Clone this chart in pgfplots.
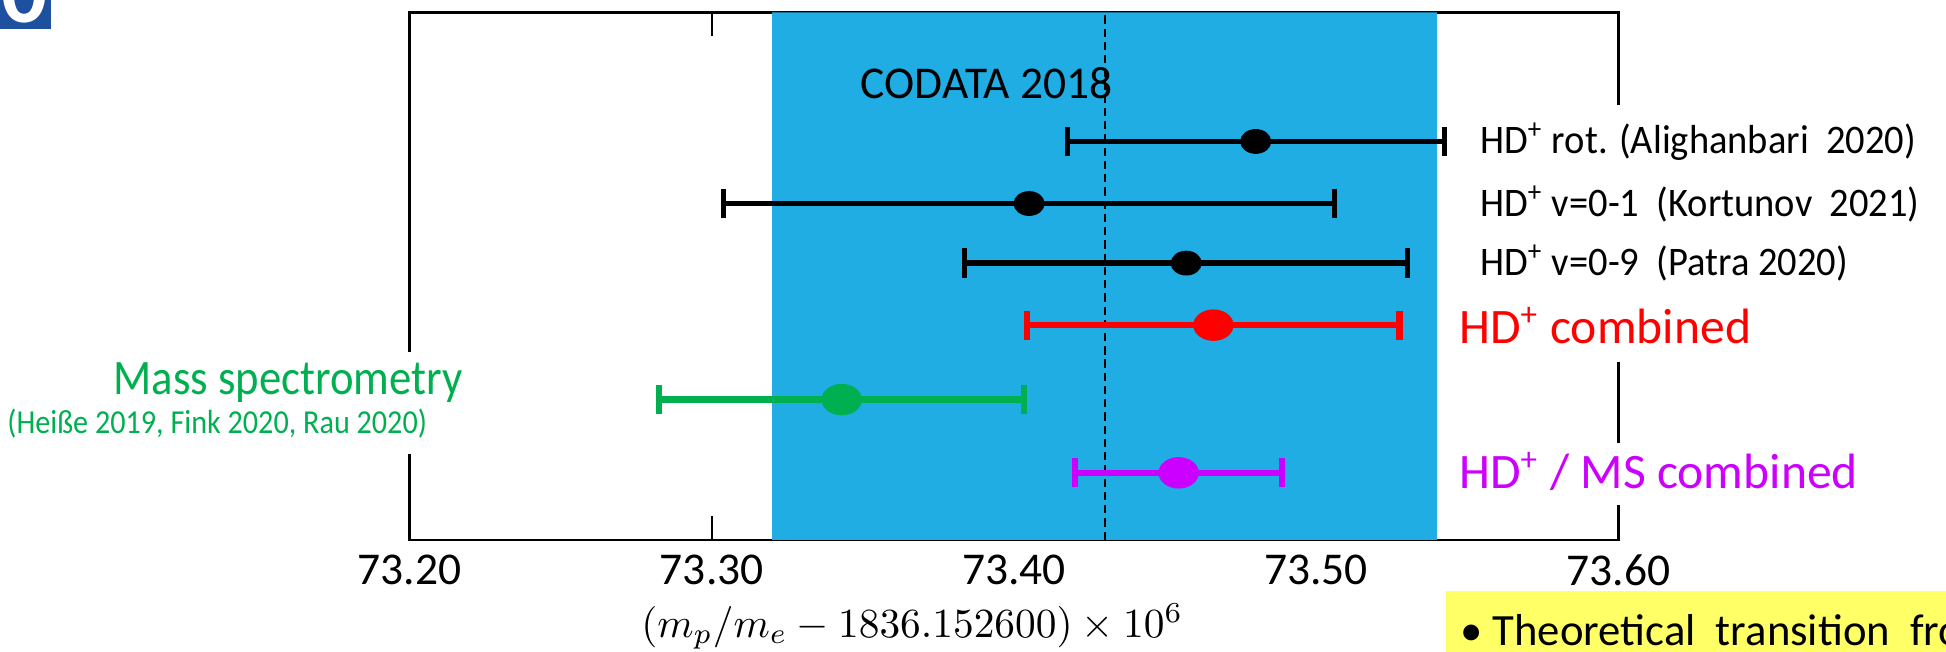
\documentclass[border=0pt]{standalone}
\usepackage{pgfplots}
\pgfplotsset{compat=1.18}
\usepackage{fontspec}
\setmainfont{Carlito}
\definecolor{bandblue}{RGB}{31,173,228}
\definecolor{msgreen}{RGB}{0,176,80}
\definecolor{hdmag}{RGB}{204,0,255}
\definecolor{boxyellow}{RGB}{255,255,102}
\definecolor{iconblue}{RGB}{30,80,160}
\newcommand{\fs}[1]{\fontsize{#1}{1.2\dimexpr#1\relax}\selectfont}
\begin{document}
\begin{tikzpicture}
\useasboundingbox (0,0) rectangle (470.4pt,157.5pt);
\clip (0,0) rectangle (470.4pt,157.5pt);
\begin{axis}[
  at={(99pt,27pt)}, anchor=south west, scale only axis,
  width=292.2pt, height=127.5pt,
  xmin=73.2, xmax=73.6, ymin=0, ymax=425,
  ytick=\empty,
  xtick={73.2,73.3,73.4,73.5,73.6},
  xtick pos=both,
  tick align=inside, major tick length=5.8pt,
  xticklabel style={font=\fs{11pt}, /pgf/number format/.cd, fixed, fixed zerofill, precision=2, assume math mode=true},
  axis line style={line width=0.6pt},
  tick style={black, line width=0.5pt},
  clip=false,
]
% CODATA 2018 band
\addplot[draw=none, fill=bandblue] coordinates {(73.32,0) (73.32,425) (73.54,425) (73.54,0)} \closedcycle;
\node[anchor=west, inner sep=0pt, font=\fs{11pt}] at (axis cs:73.3491,368) {CODATA 2018};
\addplot[black, line width=0.5pt, dash pattern=on 2pt off 1.2pt] coordinates {(73.43,0) (73.43,425)};
% black measurements
\addplot[black, mark=*, mark size=2.8pt, mark options={xscale=1.27}, only marks,
  error bars/.cd, x dir=both, x explicit,
  error bar style={line width=1.3pt},
  error mark options={rotate=90, mark size=3.6pt, line width=1.2pt}]
  coordinates {
    (73.480,321) +- (0.0624,0)
    (73.405,271) +- (0.101,0)
    (73.457,223) +- (0.0733,0)
  };
% HD+ combined
\addplot[red, mark=*, mark size=3.6pt, mark options={xscale=1.3}, only marks,
  error bars/.cd, x dir=both, x explicit,
  error bar style={line width=1.6pt},
  error mark options={rotate=90, mark size=3.5pt, line width=1.5pt}]
  coordinates {(73.466,173) +- (0.0616,0)};
% mass spectrometry
\addplot[msgreen, mark=*, mark size=3.6pt, mark options={xscale=1.3}, only marks,
  error bars/.cd, x dir=both, x explicit,
  error bar style={line width=1.6pt},
  error mark options={rotate=90, mark size=3.5pt, line width=1.5pt}]
  coordinates {(73.343,113) +- (0.0604,0)};
% HD+/MS combined
\addplot[hdmag, mark=*, mark size=3.6pt, mark options={xscale=1.3}, only marks,
  error bars/.cd, x dir=both, x explicit,
  error bar style={line width=1.6pt},
  error mark options={rotate=90, mark size=3.5pt, line width=1.5pt}]
  coordinates {(73.4545,54) +- (0.0343,0)};
\end{axis}
\begin{scope}[x=0.3pt, y=-0.3pt, yshift=157.5pt]
  % icon
  \fill[iconblue] (0,0) rectangle (41,23);
  \node[white, anchor=base, inner sep=0pt, font=\bfseries\fs{22pt}] at (20,18) {0};
  % white gaps in axis lines behind text boxes
  \fill[white] (1292,85) rectangle (1318,292);
  \fill[white] (1292,357) rectangle (1318,407);
  \fill[white] (318,284) rectangle (342,366);
  % right labels
  \node[anchor=west, inner sep=0pt, xscale=0.95, font=\fs{9.8pt}] at (1192,114) {HD\textsuperscript{+} rot. (Alighanbari\ \ 2020)};
  \node[anchor=west, inner sep=0pt, xscale=0.95, font=\fs{9.8pt}] at (1192,164) {HD\textsuperscript{+} v=0-1\ \ (Kortunov\ \ 2021)};
  \node[anchor=west, inner sep=0pt, xscale=0.95, font=\fs{9.8pt}] at (1192,212) {HD\textsuperscript{+} v=0-9\ \ (Patra 2020)};
  \node[anchor=west, inner sep=0pt, red, font=\fs{12pt}] at (1175,262) {HD\textsuperscript{+} combined};
  \node[anchor=west, inner sep=0pt, hdmag, font=\fs{12pt}] at (1175,380) {HD\textsuperscript{+} / MS combined};
  % left labels
  \node[inner sep=0pt, msgreen, xscale=0.9, font=\fs{12pt}] at (232,308) {Mass spectrometry};
  \node[inner sep=0pt, msgreen, xscale=0.9, font=\fs{8.1pt}] at (175,341) {(Heiße 2019, Fink 2020, Rau 2020)};
  % x label
  \node[inner sep=0pt, font=\fs{9.8pt}] at (735,505) {$(m_p/m_e - 1836.152600)\times 10^{6}$};
  % yellow box
  \fill[boxyellow] (1165,476) rectangle (1600,530);
  \node[anchor=base west, inner sep=0pt, font=\fs{10.8pt}] at (1176,520) {\textbullet\ Theoretical\ \ transition\ \ from};
\end{scope}
\end{tikzpicture}
\end{document}
